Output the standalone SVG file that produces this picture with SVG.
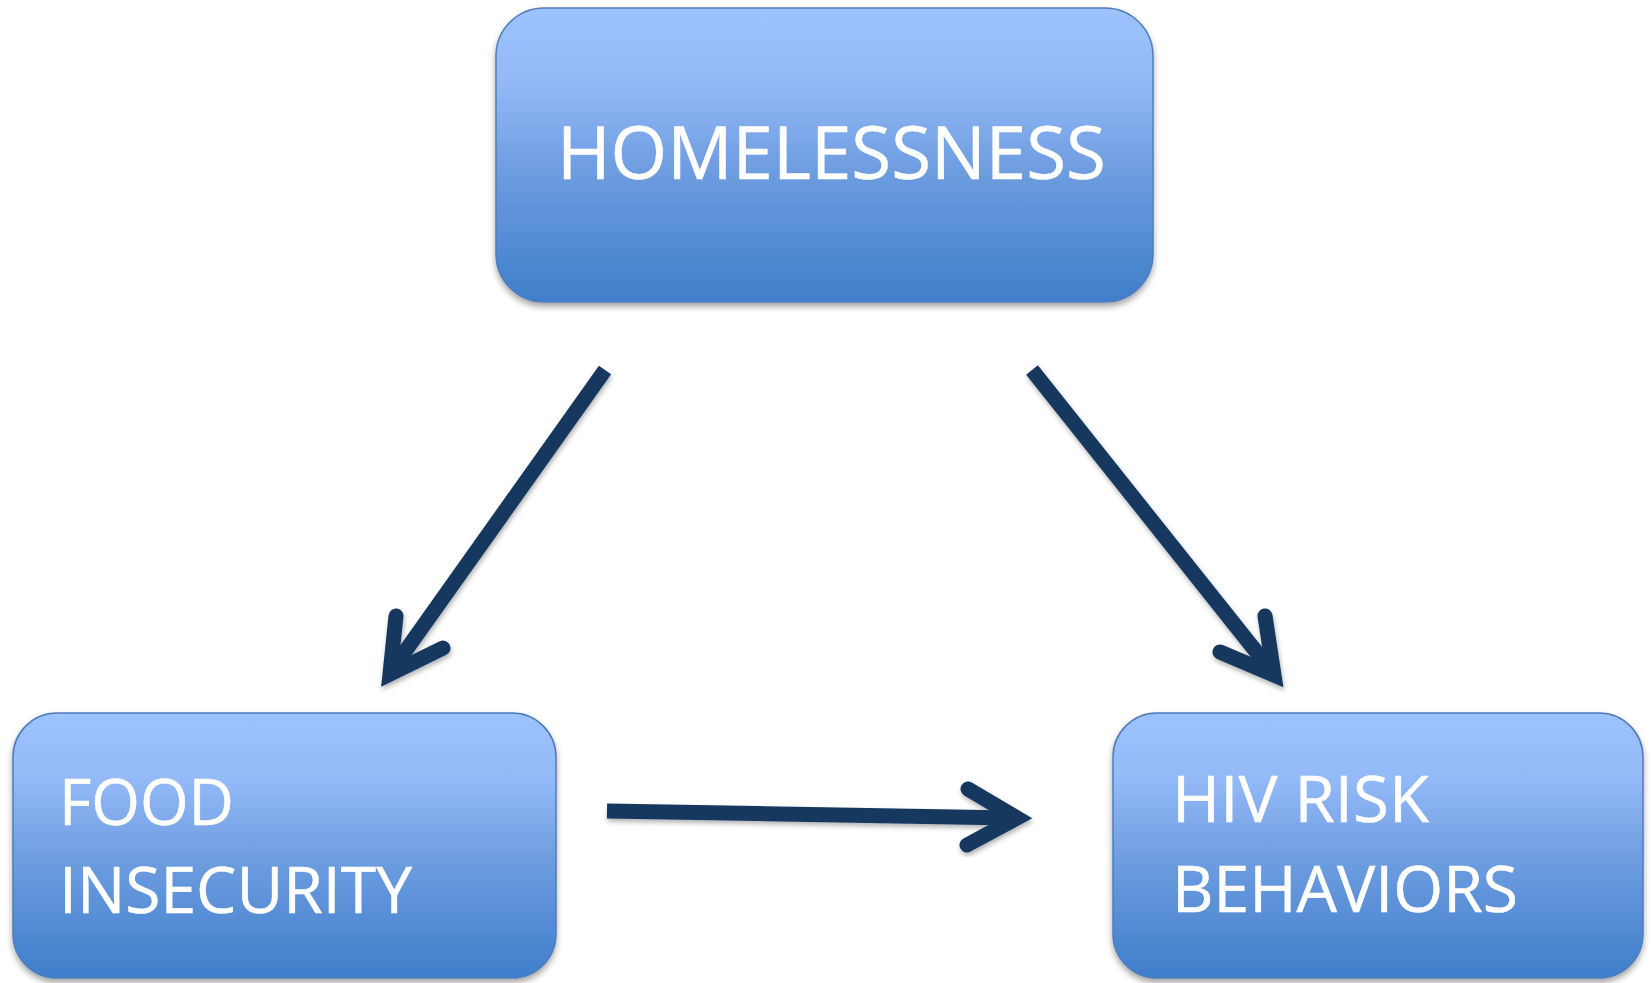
<svg xmlns="http://www.w3.org/2000/svg" width="1652" height="983" viewBox="0 0 1652 983">
<defs>
<linearGradient id="boxGrad" x1="0" y1="0" x2="0" y2="1">
<stop offset="0" stop-color="#9DC3FE"/>
<stop offset="0.25" stop-color="#93B9F7"/>
<stop offset="0.55" stop-color="#6E9DE0"/>
<stop offset="1" stop-color="#3F7ECB"/>
</linearGradient>
<filter id="shadow" x="-10%" y="-10%" width="120%" height="130%">
<feDropShadow dx="0" dy="4" stdDeviation="3" flood-color="#000" flood-opacity="0.35"/>
</filter>
<filter id="ashadow" x="-20%" y="-20%" width="140%" height="140%">
<feDropShadow dx="1" dy="3" stdDeviation="2.5" flood-color="#000" flood-opacity="0.3"/>
</filter>
</defs>
<style>
.box{fill:url(#boxGrad);stroke:#4F7DBB;stroke-width:1.5;filter:url(#shadow)}
.lbl{font-family:"Open Sans","Liberation Sans",sans-serif;fill:#fff;stroke:#fff;stroke-width:0.5}
.shaft{fill:none;stroke:#17375E;stroke-width:15;stroke-linecap:butt}
.head{fill:none;stroke:#17375E;stroke-width:15;stroke-linecap:round;stroke-linejoin:miter;stroke-miterlimit:10}
.arrow{filter:url(#ashadow)}
</style>
<rect width="1652" height="983" fill="#fff"/>
<g id="homelessness">
<rect class="box" x="496" y="8" width="657" height="294" rx="48" ry="48"/>
<text class="lbl" x="557" y="179" font-size="73" textLength="549" lengthAdjust="spacingAndGlyphs">HOMELESSNESS</text>
</g>
<g id="food-insecurity">
<rect class="box" x="13" y="713" width="543" height="265" rx="44" ry="44"/>
<text class="lbl" x="59" y="825" font-size="64" textLength="175" lengthAdjust="spacingAndGlyphs">FOOD</text>
<text class="lbl" x="59" y="913" font-size="64" textLength="353" lengthAdjust="spacingAndGlyphs">INSECURITY</text>
</g>
<g id="hiv-risk">
<rect class="box" x="1113" y="713" width="530" height="265" rx="44" ry="44"/>
<text class="lbl" x="1172" y="822" font-size="64" textLength="257" lengthAdjust="spacingAndGlyphs">HIV RISK</text>
<text class="lbl" x="1172" y="912" font-size="64" textLength="346" lengthAdjust="spacingAndGlyphs">BEHAVIORS</text>
</g>
<g id="connectors">
<g class="arrow">
<line class="shaft" x1="605" y1="370" x2="394" y2="667"/>
<path class="head" d="M396 616 L390 674 L443 648"/>
</g>
<g class="arrow">
<line class="shaft" x1="1032" y1="370" x2="1270" y2="669"/>
<path class="head" d="M1265 616 L1274 675 L1220 652"/>
</g>
<g class="arrow">
<line class="shaft" x1="607" y1="811" x2="1012" y2="818"/>
<path class="head" d="M968 789 L1017 818 L967 845"/>
</g>
</g>
</svg>
